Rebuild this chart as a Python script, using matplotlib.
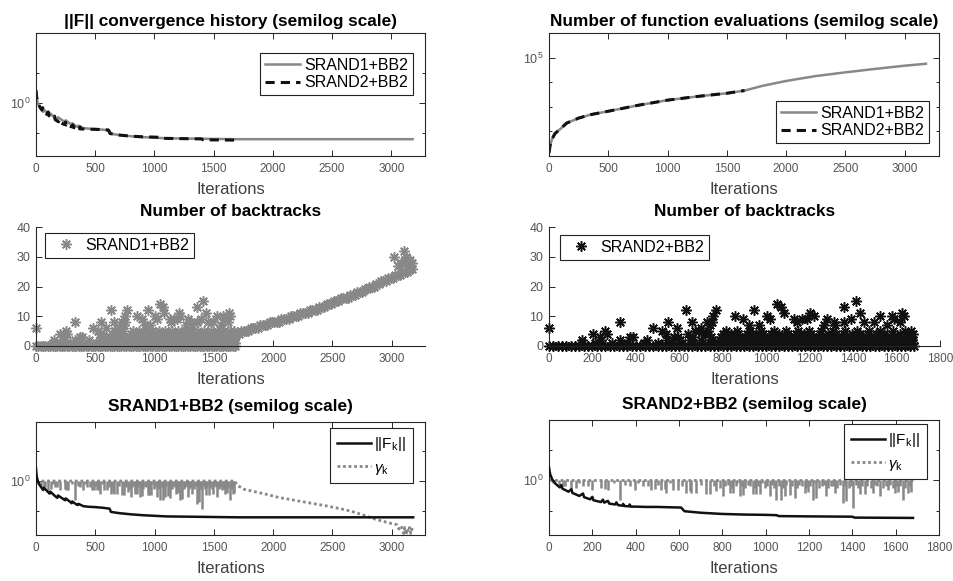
import matplotlib
matplotlib.use("Agg")
import matplotlib.pyplot as plt
from matplotlib.ticker import FixedLocator, NullFormatter
import numpy as np

plt.rcParams["font.family"] = ["Liberation Sans", "DejaVu Sans"]
plt.rcParams["mathtext.fontset"] = "custom"
plt.rcParams["mathtext.rm"] = "Liberation Sans"
plt.rcParams["mathtext.it"] = "Liberation Sans:italic"

# ── Data ────────────────────────────────────────────────────────────────────
# ||F_k|| history (log10 values)
f1_iter = [0, 5, 15, 30, 50, 60, 66, 100, 115, 120, 160, 180, 186, 230, 245,
           250, 290, 300, 306, 340, 352, 358, 400, 450, 500, 560, 620, 632,
           700, 800, 900, 1000, 1100, 1300, 1700, 2200, 2700, 3180]
f1_log = [0.41, 0.18, 0.0, -0.13, -0.24, -0.3, -0.22, -0.36, -0.42, -0.35,
          -0.5, -0.56, -0.48, -0.6, -0.64, -0.58, -0.7, -0.74, -0.68, -0.78,
          -0.8, -0.76, -0.84, -0.86, -0.87, -0.89, -0.92, -1.03, -1.07, -1.11,
          -1.14, -1.16, -1.18, -1.19, -1.21, -1.21, -1.21, -1.21]

f2_iter = [0, 5, 15, 30, 50, 57, 62, 90, 103, 108, 140, 157, 162, 190, 200,
           205, 240, 249, 255, 272, 278, 305, 311, 318, 340, 342, 348, 370,
           372, 378, 400, 450, 500, 550, 610, 625, 700, 800, 900, 1000, 1050,
           1060, 1200, 1400, 1410, 1680]
f2_log = [0.42, 0.2, 0.02, -0.12, -0.24, -0.16, -0.28, -0.38, -0.3, -0.42,
          -0.52, -0.44, -0.56, -0.63, -0.55, -0.66, -0.72, -0.64, -0.74, -0.68,
          -0.77, -0.8, -0.73, -0.82, -0.84, -0.78, -0.85, -0.86, -0.8, -0.87,
          -0.87, -0.88, -0.88, -0.89, -0.9, -1.02, -1.07, -1.11, -1.13, -1.14,
          -1.15, -1.18, -1.19, -1.2, -1.23, -1.24]

# function evaluations (log10 values)
ev1_iter = [0, 10, 28, 50, 100, 150, 250, 350, 500, 750, 1000, 1250, 1500,
            1650, 1800, 2000, 2250, 2500, 2750, 3000, 3180]
ev1_log = [1.13, 1.45, 1.71, 1.91, 2.12, 2.34, 2.54, 2.68, 2.82, 3.06, 3.27,
           3.42, 3.55, 3.66, 3.85, 4.05, 4.25, 4.40, 4.54, 4.67, 4.75]
ev2_iter = [0, 10, 28, 50, 100, 150, 250, 350, 500, 750, 1000, 1250, 1500, 1650]
ev2_log = [1.13, 1.45, 1.71, 1.91, 2.12, 2.34, 2.54, 2.68, 2.82, 3.06, 3.27,
           3.42, 3.55, 3.66]

# backtracks: iterations grouped by number of backtracks (first 1680 its)
bt0 = [0, 20, 40, 60, 80, 100, 120, 140, 160, 180, 200, 220, 240, 260, 280,
       300, 320, 340, 360, 380, 400, 420, 440, 460, 480, 500, 520, 540, 560,
       580, 600, 620, 640, 660, 680, 700, 720, 740, 760, 780, 800, 820, 840,
       860, 880, 900, 920, 940, 960, 980, 1000, 1020, 1040, 1060, 1080, 1100,
       1120, 1140, 1160, 1180, 1200, 1220, 1240, 1260, 1280, 1300, 1320, 1340,
       1360, 1380, 1400, 1420, 1440, 1460, 1480, 1500, 1520, 1540, 1560, 1580,
       1600, 1620, 1640, 1660, 1680]
bt1 = [150, 212, 288, 361, 437, 503, 562, 611, 664, 703, 741, 776, 797, 812,
       829, 846, 861, 879, 896, 911, 928, 947, 963, 979, 996, 1013, 1031, 1047,
       1062, 1079, 1097, 1113, 1130, 1146, 1164, 1179, 1196, 1213, 1230, 1247,
       1263, 1279, 1296, 1313, 1331, 1347, 1362, 1379, 1397, 1413, 1430, 1447,
       1463, 1480, 1496, 1513, 1530, 1547, 1563, 1580, 1596, 1613, 1630, 1647,
       1663, 1678]
bt2 = [154, 238, 326, 449, 541, 605, 648, 702, 749, 786, 808, 827, 851, 873,
       894, 916, 934, 957, 978, 1002, 1021, 1043, 1066, 1088, 1107, 1131, 1152,
       1171, 1193, 1214, 1236, 1258, 1279, 1301, 1322, 1344, 1366, 1388, 1409,
       1431, 1452, 1474, 1496, 1517, 1539, 1561, 1582, 1604, 1626, 1647, 1669]
bt3 = [237, 372, 388, 575, 592, 661, 745, 790, 817, 848, 874, 903, 931, 962,
       990, 1017, 1046, 1074, 1102, 1131, 1159, 1188, 1216, 1245, 1273, 1302,
       1330, 1359, 1387, 1416, 1444, 1473, 1501, 1530, 1558, 1587, 1615, 1644,
       1672]
bt4 = [203, 265, 540, 640, 720, 802, 838, 871, 912, 951, 986, 1024, 1061,
       1099, 1137, 1172, 1208, 1247, 1284, 1320, 1357, 1395, 1431, 1468, 1505,
       1543, 1579, 1616, 1652, 1675]
bt5 = [257, 520, 670, 690, 730, 815, 866, 924, 977, 1035, 1090, 1148, 1196,
       1254, 1306, 1364, 1418, 1472, 1525, 1583, 1637, 1668]
out_iter = [0, 326, 480, 549, 588, 631, 657, 700, 726, 742, 749, 754, 769, 854,
            892, 923, 945, 965, 1003, 1018, 1049, 1068, 1080, 1126, 1142, 1165,
            1188, 1203, 1218, 1265, 1280, 1311, 1318, 1357, 1360, 1388, 1411,
            1434, 1449, 1495, 1526, 1557, 1580, 1588, 1618, 1626, 1634]
out_count = [6, 8, 6, 8, 6, 12, 8, 6, 8, 7, 8, 10, 12, 10, 9, 7, 12, 7, 10, 9,
             14, 13, 11, 9, 8, 9, 9, 11, 10, 7, 9, 8, 7, 8, 13, 9, 15, 11, 8, 8,
             10, 7, 10, 9, 8, 11, 10]

# SRAND1 backtracks after iteration 1680
ramp_iter = [1690, 1710, 1730, 1750, 1770, 1790, 1810, 1830, 1850, 1870, 1890,
             1910, 1930, 1950, 1970, 1990, 2010, 2030, 2050, 2070, 2090, 2110,
             2130, 2150, 2170, 2190, 2210, 2230, 2250, 2270, 2290, 2310, 2330,
             2350, 2370, 2390, 2410, 2430, 2450, 2470, 2490, 2510, 2530, 2550,
             2570, 2590, 2610, 2630, 2650, 2670, 2690, 2710, 2730, 2750, 2770,
             2790, 2810, 2830, 2850, 2870, 2890, 2910, 2930, 2950, 2970, 2990,
             3010, 3030, 3050, 3070, 3090, 3110, 3130, 3150, 3170,
             3020, 3050, 3080, 3100, 3110, 3120, 3130, 3140, 3150, 3160, 3170]
ramp_count = [4, 4, 5, 5, 5, 5, 6, 6, 6, 6, 7, 7, 7, 7, 8, 8, 8, 8, 8, 9, 9, 9,
              9, 10, 10, 10, 10, 11, 11, 11, 11, 12, 12, 12, 12, 13, 13, 13, 14,
              14, 14, 15, 15, 15, 16, 16, 16, 16, 17, 17, 17, 18, 18, 18, 19, 19,
              20, 20, 20, 21, 21, 22, 22, 22, 23, 23, 23, 24, 24, 24, 25, 25, 25,
              26, 26,
              30, 27, 28, 32, 29, 30, 28, 27, 29, 27, 28]

# step length gamma_k: drops below 1 (log10 values)
gam_iter = [65, 72, 100, 126, 157, 200, 242, 257, 272, 326, 372, 395, 434, 472,
            488, 518, 534, 542, 572, 595, 634, 649, 657, 680, 726, 742, 772,
            803, 834, 849, 880, 895, 942, 957, 972, 1018, 1049, 1072, 1088,
            1111, 1134, 1180, 1195, 1218, 1234, 1280, 1318, 1357, 1372, 1403,
            1434, 1457, 1495, 1526, 1565, 1595, 1611, 1634, 1657, 1672]
gam_log = [-0.2, -0.2, -0.31, -0.25, -0.2, -0.31, -0.25, -0.3, -0.31, -0.64,
           -0.2, -0.31, -0.2, -0.31, -0.3, -0.31, -0.3, -0.42, -0.31, -0.31,
           -0.42, -0.36, -0.42, -0.42, -0.47, -0.45, -0.36, -0.53, -0.42, -0.42,
           -0.53, -0.5, -0.47, -0.47, -0.47, -0.53, -0.64, -0.64, -0.53, -0.5,
           -0.58, -0.42, -0.4, -0.64, -0.6, -0.53, -0.42, -0.76, -0.7, -0.92,
           -0.47, -0.45, -0.42, -0.53, -0.31, -0.42, -0.4, -0.64, -0.42, -0.4]
gam_iter_b = [20, 45, 140, 180, 300, 350, 410, 455, 505, 560, 615, 700, 760,
              790, 812, 825, 845, 862, 870, 890, 905, 918, 930, 950, 965, 985,
              995, 1008, 1030, 1040, 1060, 1080, 1095, 1120, 1145, 1155, 1170,
              1188, 1205, 1225, 1245, 1258, 1270, 1290, 1300, 1310, 1330, 1345,
              1365, 1385, 1395, 1415, 1425, 1445, 1470, 1485, 1505, 1515, 1540,
              1555, 1575, 1588, 1603, 1620, 1645, 1665]
gam_log_b = [-0.1, -0.15, -0.1, -0.2, -0.1, -0.15, -0.1, -0.2, -0.15, -0.1,
             -0.2, -0.15, -0.2, -0.25, -0.2, -0.15, -0.25, -0.2, -0.1, -0.2,
             -0.25, -0.15, -0.2, -0.25, -0.2, -0.1, -0.25, -0.2, -0.15, -0.25,
             -0.2, -0.25, -0.15, -0.2, -0.25, -0.15, -0.2, -0.25, -0.2, -0.1,
             -0.25, -0.2, -0.15, -0.25, -0.2, -0.2, -0.25, -0.15, -0.2, -0.25,
             -0.2, -0.15, -0.25, -0.2, -0.2, -0.25, -0.15, -0.2, -0.25, -0.2,
             -0.15, -0.25, -0.2, -0.2, -0.25, -0.2]
# gamma_k level where no backtracking happened, and SRAND1 decay after 1680
gam_base_iter = [0, 1680]
gam_base_log = [0.0, 0.0]
gam1_tail_iter = [1680, 1690, 1750, 1850, 1950, 2050, 2150, 2250, 2350, 2450,
                  2550, 2650, 2750, 2850, 2950, 3000, 3040, 3060, 3080, 3100,
                  3110, 3120, 3130, 3140, 3150, 3160, 3170, 3180]
gam1_tail_log = [0.0, -0.12, -0.27, -0.36, -0.45, -0.55, -0.62, -0.69, -0.76,
                 -0.83, -0.91, -1.0, -1.12, -1.26, -1.37, -1.42, -1.45, -1.6,
                 -1.5, -1.75, -1.55, -1.8, -1.6, -1.7, -1.55, -1.75, -1.6, -1.68]

# ── Style ───────────────────────────────────────────────────────────────────
GRAY = "#888888"
BLACK = "#111111"
TICKC = "#555555"
STAR = (8, 2, 0)   # MATLAB-like '*' (plus + cross)

W, H = 954, 581
fig = plt.figure(figsize=(W / 100, H / 100), dpi=100)


def add_axes(x0, y0, x1, y1):
    return fig.add_axes([x0 / W, 1 - y1 / H, (x1 - x0) / W, (y1 - y0) / H])


def style(ax, xlim, xticks, box=True, title="", tpad=5):
    ax.set_xlim(*xlim)
    ax.set_xticks(xticks)
    for s in ax.spines.values():
        s.set_linewidth(0.8)
        s.set_color("#262626")
    if not box:
        ax.spines["top"].set_visible(False)
        ax.spines["right"].set_visible(False)
    ax.tick_params(which="both", direction="in", top=box, right=box,
                   labelsize=8.5, colors=TICKC, pad=4)
    ax.tick_params(axis="x", pad=5)
    ax.tick_params(axis="y", labelsize=9)
    ax.tick_params(which="major", length=4, width=0.7, color="#262626")
    ax.tick_params(which="minor", length=2.5, width=0.7, color="#262626")
    ax.set_xlabel("Iterations", fontsize=12, color="#404040", labelpad=5)
    ax.set_title(title, fontsize=12.4, fontweight="bold", pad=tpad)


def legend(ax, loc, anchor, **kw):
    opts = dict(loc=loc, bbox_to_anchor=anchor, borderaxespad=0,
                fontsize=11.5, fancybox=False, framealpha=1,
                edgecolor="#222222", handlelength=2.2, handletextpad=0.25,
                borderpad=0.3, labelspacing=0.15)
    opts.update(kw)
    lg = ax.legend(**opts)
    lg.get_frame().set_linewidth(0.8)
    return lg


def log_minor(ax, vals):
    ax.yaxis.set_minor_locator(FixedLocator(vals))
    ax.yaxis.set_minor_formatter(NullFormatter())


p10 = lambda v: 10 ** np.asarray(v)

bt_x = bt0 + bt1 + bt2 + bt3 + bt4 + bt5 + out_iter
bt_y = ([0] * len(bt0) + [1] * len(bt1) + [2] * len(bt2) + [3] * len(bt3)
        + [4] * len(bt4) + [5] * len(bt5) + out_count)

# ── Top left: ||F|| convergence ─────────────────────────────────────────────
ax = add_axes(36, 33, 425, 156)
ax.semilogy(f1_iter, p10(f1_log), color=GRAY, lw=1.8, label="SRAND1+BB2")
ax.semilogy(f2_iter, p10(f2_log), color=BLACK, lw=2.2, ls=(0, (3, 2)),
            label="SRAND2+BB2")
ax.set_ylim(10 ** -1.77, 10 ** 2.33)
ax.set_yticks([1])
log_minor(ax, [0.1, 10])
style(ax, (0, 3285), range(0, 3001, 500),
      title="||F|| convergence history (semilog scale)", tpad=5)
legend(ax, "upper right", (0.969, 0.837))

# ── Top right: function evaluations ─────────────────────────────────────────
ax = add_axes(549, 33, 939, 156)
ax.semilogy(ev1_iter, p10(ev1_log), color=GRAY, lw=1.8, label="SRAND1+BB2")
ax.semilogy(ev2_iter, p10(ev2_log), color=BLACK, lw=2.2, ls=(0, (3, 2)),
            label="SRAND2+BB2")
ax.set_ylim(1e1, 1e6)
ax.set_yticks([1e5])
log_minor(ax, [1e2, 1e3, 1e4])
style(ax, (0, 3290), range(0, 3001, 500),
      title="Number of function evaluations (semilog scale)", tpad=5)
legend(ax, "lower right", (0.974, 0.106))

# ── Middle left: backtracks SRAND1 ──────────────────────────────────────────
ax = add_axes(36, 227, 425, 346)
ax.plot(bt_x + ramp_iter, bt_y + ramp_count, ls="none", marker=STAR, ms=7.5,
        mew=1.1, color=GRAY, label="SRAND1+BB2", clip_on=False)
ax.set_ylim(0, 40)
ax.set_yticks(range(0, 41, 10))
style(ax, (0, 3280), range(0, 3001, 500), box=False,
      title="Number of backtracks", tpad=8)
legend(ax, "upper left", (0.023, 0.95), handlelength=2.0)

# ── Middle right: backtracks SRAND2 ─────────────────────────────────────────
ax = add_axes(549, 227, 940, 346)
ax.plot(bt_x, bt_y, ls="none", marker=STAR, ms=7.5, mew=1.1, color=BLACK,
        label="SRAND2+BB2", clip_on=False)
ax.set_ylim(0, 40)
ax.set_yticks(range(0, 41, 10))
style(ax, (0, 1800), range(0, 1801, 200), box=False,
      title="Number of backtracks", tpad=8)
legend(ax, "upper left", (0.028, 0.933), handlelength=2.0)

# ── Bottom: ||F_k|| and gamma_k per method ──────────────────────────────────
gx = gam_iter + gam_iter_b
gy = gam_log + gam_log_b

for (x0, y0, x1, y1), xmax, xt, f_it, f_lg, tail, name, anc in [
        ((36, 422, 425, 535), 3280, range(0, 3001, 500), f1_iter, f1_log,
         True, "SRAND1+BB2 (semilog scale)", (0.969, 0.947)),
        ((549, 420, 939, 535), 1800, range(0, 1801, 200), f2_iter, f2_log,
         False, "SRAND2+BB2 (semilog scale)", (0.969, 0.965))]:
    ax = add_axes(x0, y0, x1, y1)
    ax.semilogy(f_it, p10(f_lg), color=BLACK, lw=1.8,
                label="||F$_\\mathregular{k}$||", zorder=3)
    g_it = gam_base_iter + (gam1_tail_iter if tail else [])
    g_lg = gam_base_log + (gam1_tail_log if tail else [])
    ax.semilogy(g_it, p10(g_lg), color=GRAY, lw=2, ls=(0, (1, 1)),
                label="$\\gamma_\\mathregular{k}$", zorder=2)
    ax.vlines(gx, p10(gy), 1.0, colors=GRAY, lw=1.8, zorder=2)
    ax.set_ylim(10 ** -1.8, 10 ** 1.97)
    ax.set_yticks([1])
    log_minor(ax, [0.1, 10])
    style(ax, (0, xmax), xt, title=name, tpad=8)
    legend(ax, "upper right", anc, labelspacing=0.5, borderpad=0.45,
           fontsize=11)

fig.savefig("out.png", dpi=100)
